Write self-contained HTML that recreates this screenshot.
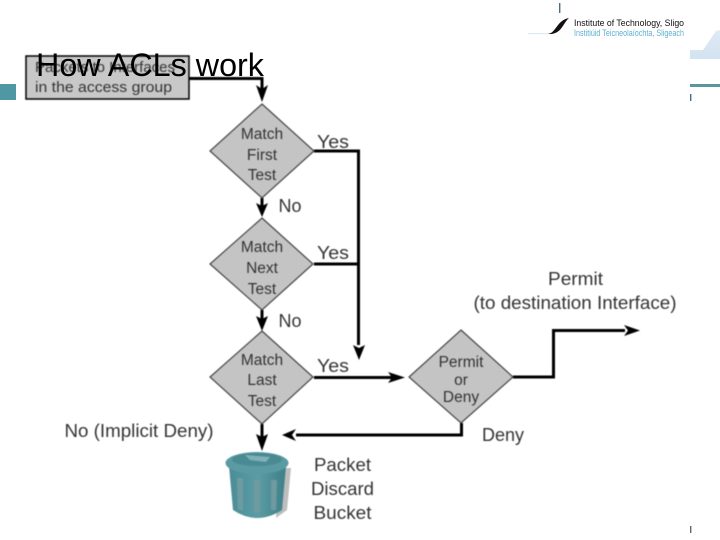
<!DOCTYPE html>
<html><head><meta charset="utf-8"><style>
html,body{margin:0;padding:0;background:#fff;width:720px;height:540px;overflow:hidden}
svg{display:block}
text{font-family:"Liberation Sans",sans-serif;fill:#333;text-anchor:middle;font-size:18.500px}
.d{fill:#c4c4c4;stroke:#444;stroke-width:1.2}
.l{fill:none;stroke:#000;stroke-width:3}
.a{fill:#000}
.s{font-size:15.500px}
.soft{filter:blur(.4px)}
</style></head><body>
<svg width="720" height="540" viewBox="0 0 720 540" xmlns="http://www.w3.org/2000/svg">
<defs>
<linearGradient id="tri" x1="0" y1="0" x2="0" y2="1"><stop offset="0" stop-color="#dfeaf5"/><stop offset="1" stop-color="#d3e3f1"/></linearGradient>
<linearGradient id="body" x1="0" y1="0" x2="1" y2="0"><stop offset="0" stop-color="#4a8d96"/><stop offset=".5" stop-color="#5b9ca5"/><stop offset="1" stop-color="#3f7f88"/></linearGradient>
</defs>
<!-- decoration -->
<rect x="0" y="84" width="16" height="16" fill="#4f97a3"/>
<rect x="559" y="3" width="1.4" height="10" fill="#4a6f80"/>
<path d="M690 50H703L716 31L720 30V59H690Z" fill="url(#tri)"/>
<rect x="690" y="84" width="30" height="3" fill="#5b96a0"/>
<rect x="690" y="94" width="1.4" height="7" fill="#4a6f80"/>
<rect x="690" y="526" width="1.4" height="7" fill="#666"/>
<rect x="528" y="33" width="24" height="1.2" fill="#dcebf3"/>
<path d="M548 34C556 33 557 20 569 18C563 23 562 33 551 34Z" fill="#111"/>
<text x="574" y="26" style="text-anchor:start;font-size:9.500px;fill:#111" textLength="110" lengthAdjust="spacingAndGlyphs">Institute of Technology, Sligo</text>
<text x="574" y="36" style="text-anchor:start;font-size:9px;fill:#5fb0d0" textLength="110" lengthAdjust="spacingAndGlyphs">Institiúid Teicneolaíochta, Sligeach</text>

<g class="soft">
<!-- top box -->
<rect x="26" y="56" width="163" height="43" fill="#c8c8c8" stroke="#000" stroke-width="1.5"/>
<text x="35" y="72" style="text-anchor:start;font-size:15px" textLength="140" lengthAdjust="spacingAndGlyphs">Packets to Interfaces</text>
<text x="35" y="92" style="text-anchor:start;font-size:15px" textLength="137" lengthAdjust="spacingAndGlyphs">in the access group</text>

<!-- connectors -->
<path class="l" d="M189 78.500H262V92"/>
<path class="a" d="M256 85L262 89L268 85L262 102Z"/>
<path class="l" d="M262 198V210"/>
<path class="a" d="M256 203L262 206L268 203L262 217Z"/>
<path class="l" d="M262 310V322"/>
<path class="a" d="M256 316L262 319L268 316L262 331Z"/>
<path class="l" d="M262 424V440"/>
<path class="a" d="M256 434L262 437L268 434L262 451Z"/>
<path class="l" d="M314 151H358.500V345"/>
<path class="l" d="M314 264H358"/>
<path class="a" d="M353 345L359 348L365 345L359 360Z"/>
<path class="l" d="M314 377.500H392"/>
<path class="a" d="M388 372L392 377.500L388 383L405 377.500Z"/>
<path class="l" d="M513 377H553.500V330.500H625"/>
<path class="a" d="M624 325L628 330.500L624 336L640 330.500Z"/>
<path class="l" d="M461.500 423V435H296"/>
<path class="a" d="M296 429L292 435L296 441L282 435Z"/>

<!-- diamonds -->
<polygon class="d" points="262,104 314,151 262,198 210,151"/>
<polygon class="d" points="262,218 313,264 262,310 210,264"/>
<polygon class="d" points="262,331 313,377 262,424 210,377"/>
<polygon class="d" points="461,330 513,377 461,423 409,377"/>

<!-- diamond labels -->
<text class="s" x="262" y="139">Match</text>
<text class="s" x="262" y="160">First</text>
<text class="s" x="262" y="180">Test</text>
<text class="s" x="262" y="252">Match</text>
<text class="s" x="262" y="273">Next</text>
<text class="s" x="262" y="294">Test</text>
<text class="s" x="262" y="365">Match</text>
<text class="s" x="262" y="385">Last</text>
<text class="s" x="262" y="406">Test</text>
<text class="s" x="461" y="367">Permit</text>
<text class="s" x="461" y="385">or</text>
<text class="s" x="461" y="402">Deny</text>

<!-- edge labels -->
<text x="333" y="148" textLength="32" lengthAdjust="spacingAndGlyphs">Yes</text>
<text x="333" y="259" textLength="32" lengthAdjust="spacingAndGlyphs">Yes</text>
<text x="333" y="372" textLength="32" lengthAdjust="spacingAndGlyphs">Yes</text>
<text x="290" y="212" textLength="23" lengthAdjust="spacingAndGlyphs">No</text>
<text x="290" y="327" textLength="23" lengthAdjust="spacingAndGlyphs">No</text>
<text x="575.500" y="285" textLength="55" lengthAdjust="spacingAndGlyphs">Permit</text>
<text x="575" y="309" textLength="203" lengthAdjust="spacingAndGlyphs">(to destination Interface)</text>
<text x="503" y="441" textLength="42" lengthAdjust="spacingAndGlyphs">Deny</text>
<text x="139" y="437" textLength="149" lengthAdjust="spacingAndGlyphs">No (Implicit Deny)</text>
<text x="342.500" y="471" textLength="57" lengthAdjust="spacingAndGlyphs">Packet</text>
<text x="342.500" y="495" textLength="63" lengthAdjust="spacingAndGlyphs">Discard</text>
<text x="342.500" y="519" textLength="58" lengthAdjust="spacingAndGlyphs">Bucket</text>

<!-- bucket -->
<path d="M280 468L291 468L287 510L276 518Z" fill="#bdbdbd"/>
<path d="M229 466L233 510Q257 526 282 510L286 466Z" fill="url(#body)"/>
<ellipse cx="257" cy="463" rx="31.500" ry="11" fill="#5a9aa3"/>
<ellipse cx="257" cy="459.500" rx="25" ry="6.500" fill="#4a8a93"/>
<path d="M245 455L270 457L266 462L250 460Z" fill="#7fb0b8"/>
<path d="M237 478h6v32h-5Z M254 480h6v32h-6Z M271 480h6l-1 30h-5Z" fill="#6f9ba0"/>
</g>

<!-- title -->
<text x="36" y="76" style="text-anchor:start;font-size:32.300px;fill:#000">How ACLs work</text>
</svg>
</body></html>
